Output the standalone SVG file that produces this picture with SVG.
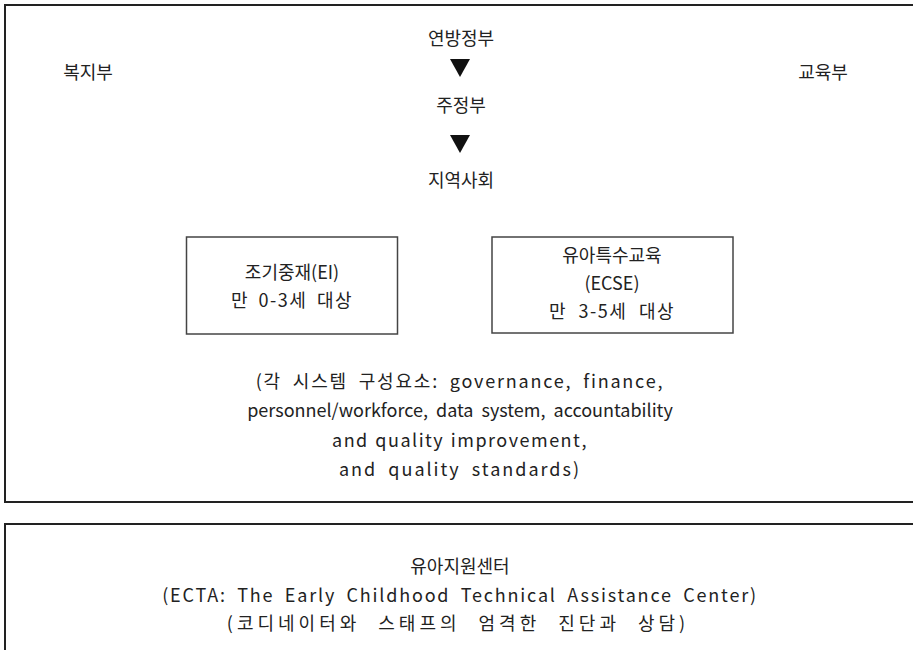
<svg xmlns="http://www.w3.org/2000/svg" width="913" height="650" viewBox="0 0 913 650">
<style>
.t{font-family:"Noto Sans CJK KR","Liberation Sans",sans-serif;font-size:18px;fill:#222;text-anchor:middle}
.frame{fill:none;stroke:#222;stroke-width:2}
.box{fill:none;stroke:#444;stroke-width:1.5}
.tri{fill:#111}
</style>
<rect width="913" height="650" fill="#fff"/>
<g id="frame-top"><path class="frame" d="M920,5 H5 V502 H920"/></g>
<g id="frame-bottom"><path class="frame" d="M920,524 H5 V660"/></g>
<g id="welfare"><text class="t" x="88" y="79">복지부</text></g>
<g id="education"><text class="t" x="823" y="79">교육부</text></g>
<g id="federal"><text class="t" x="461" y="45">연방정부</text></g>
<g id="state"><text class="t" x="461" y="112">주정부</text></g>
<g id="community"><text class="t" x="461" y="187">지역사회</text></g>
<g id="connectors">
<polygon class="tri" points="450,59 470,59 460,77"/>
<polygon class="tri" points="450,135 470,135 460,153"/>
</g>
<g id="ei"><rect class="box" x="186.5" y="237" width="211" height="97"/>
<text class="t" x="292" y="279">조기중재(EI)</text>
<text class="t" x="292" y="307" letter-spacing="1.5" word-spacing="4">만 0-3세 대상</text></g>
<g id="ecse"><rect class="box" x="492" y="237" width="241" height="96"/>
<text class="t" x="612" y="262">유아특수교육</text>
<text class="t" x="612" y="290">(ECSE)</text>
<text class="t" x="612" y="318" letter-spacing="1.5" word-spacing="6">만 3-5세 대상</text></g>
<g id="components">
<text class="t" x="460" y="388" letter-spacing="1.8" word-spacing="5">(각 시스템 구성요소: governance, finance,</text>
<text class="t" x="460" y="417" word-spacing="4">personnel/workforce, data system, accountability</text>
<text class="t" x="460" y="447" letter-spacing="1.5" word-spacing="1">and quality improvement,</text>
<text class="t" x="460" y="476" letter-spacing="2" word-spacing="5">and quality standards)</text>
</g>
<g id="ecta">
<text class="t" x="460" y="573">유아지원센터</text>
<text class="t" x="460" y="602" letter-spacing="1.8" word-spacing="4.7">(ECTA: The Early Childhood Technical Assistance Center)</text>
<text class="t" x="458" y="630" letter-spacing="4" word-spacing="10">(코디네이터와 스태프의 엄격한 진단과 상담)</text>
</g>
</svg>
